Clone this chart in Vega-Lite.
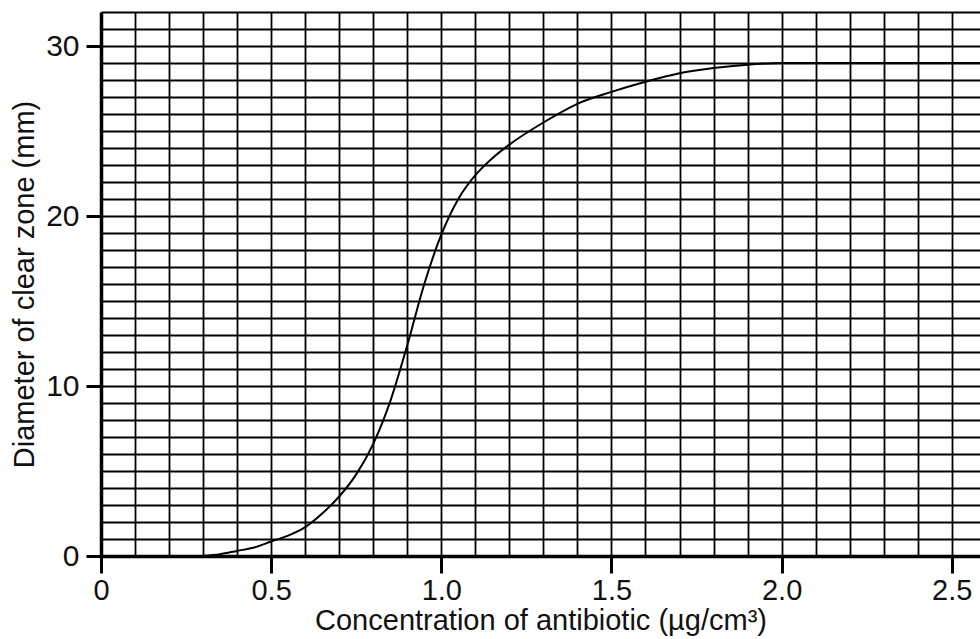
{
  "$schema": "https://vega.github.io/schema/vega-lite/v6.json",
  "autosize": {"type": "none"},
  "width": 879,
  "height": 544,
  "padding": {"left": 101, "top": 12, "right": 0, "bottom": 83},
  "background": "white",
  "config": {
    "view": {"stroke": null},
    "font": "Liberation Sans",
    "axis": {
      "labelFont": "Liberation Sans",
      "titleFont": "Liberation Sans",
      "labelColor": "#111",
      "titleColor": "#111",
      "titleFontSize": 29,
      "titleFontWeight": "normal",
      "domainColor": "black",
      "domainWidth": 3.5,
      "tickColor": "black",
      "tickWidth": 3,
      "gridColor": "black",
      "gridWidth": 1.8,
      "gridOpacity": 1
    },
    "axisX": {"labelFontSize": 29},
    "axisY": {"labelFontSize": 30}
  },
  "data": {
    "values": [
      {"c": 0.3, "d": 0.0},
      {"c": 0.35, "d": 0.1},
      {"c": 0.4, "d": 0.3},
      {"c": 0.45, "d": 0.5},
      {"c": 0.5, "d": 0.85},
      {"c": 0.55, "d": 1.2},
      {"c": 0.6, "d": 1.7},
      {"c": 0.65, "d": 2.5},
      {"c": 0.7, "d": 3.5},
      {"c": 0.75, "d": 4.8},
      {"c": 0.8, "d": 6.6},
      {"c": 0.85, "d": 9.1},
      {"c": 0.9, "d": 12.4},
      {"c": 0.95, "d": 16.0},
      {"c": 1.0, "d": 18.9},
      {"c": 1.05, "d": 21.0},
      {"c": 1.1, "d": 22.4},
      {"c": 1.15, "d": 23.4},
      {"c": 1.2, "d": 24.2},
      {"c": 1.3, "d": 25.5},
      {"c": 1.4, "d": 26.6},
      {"c": 1.5, "d": 27.3},
      {"c": 1.6, "d": 27.9},
      {"c": 1.7, "d": 28.4},
      {"c": 1.8, "d": 28.7},
      {"c": 1.9, "d": 28.9},
      {"c": 2.0, "d": 29.0},
      {"c": 2.583, "d": 29.0}
    ]
  },
  "mark": {"type": "line", "color": "black", "strokeWidth": 2, "interpolate": "monotone", "clip": true},
  "encoding": {
    "x": {
      "field": "c",
      "type": "quantitative",
      "scale": {"domain": [0, 2.583], "nice": false, "zero": false},
      "axis": {
        "title": "Concentration of antibiotic (µg/cm³)",
        "values": [0,0.1,0.2,0.3,0.4,0.5,0.6,0.7,0.8,0.9,1,1.1,1.2,1.3,1.4,1.5,1.6,1.7,1.8,1.9,2,2.1,2.2,2.3,2.4,2.5],
        "grid": true,
        "tickSize": 17,
        "tickOpacity": {"condition": {"test": "abs(round(datum.value*2) - datum.value*2) < 0.001", "value": 1}, "value": 0},
        "labelExpr": "abs(round(datum.value*2) - datum.value*2) < 0.001 ? (datum.value == 0 ? '0' : format(datum.value, '.1f')) : ''",
        "labelPadding": 3,
        "labelFlush": false,
        "labelOverlap": false,
        "titlePadding": 1
      }
    },
    "y": {
      "field": "d",
      "type": "quantitative",
      "scale": {"domain": [0, 32], "nice": false},
      "axis": {
        "title": "Diameter of clear zone (mm)",
        "values": [0,1,2,3,4,5,6,7,8,9,10,11,12,13,14,15,16,17,18,19,20,21,22,23,24,25,26,27,28,29,30,31,32],
        "grid": true,
        "tickSize": 15,
        "tickOpacity": {"condition": {"test": "datum.value % 10 == 0", "value": 1}, "value": 0},
        "labelExpr": "datum.value % 10 == 0 ? format(datum.value, 'd') : ''",
        "labelPadding": 7,
        "labelOverlap": false,
        "labelFlush": false,
        "titlePadding": 6
      }
    }
  }
}
